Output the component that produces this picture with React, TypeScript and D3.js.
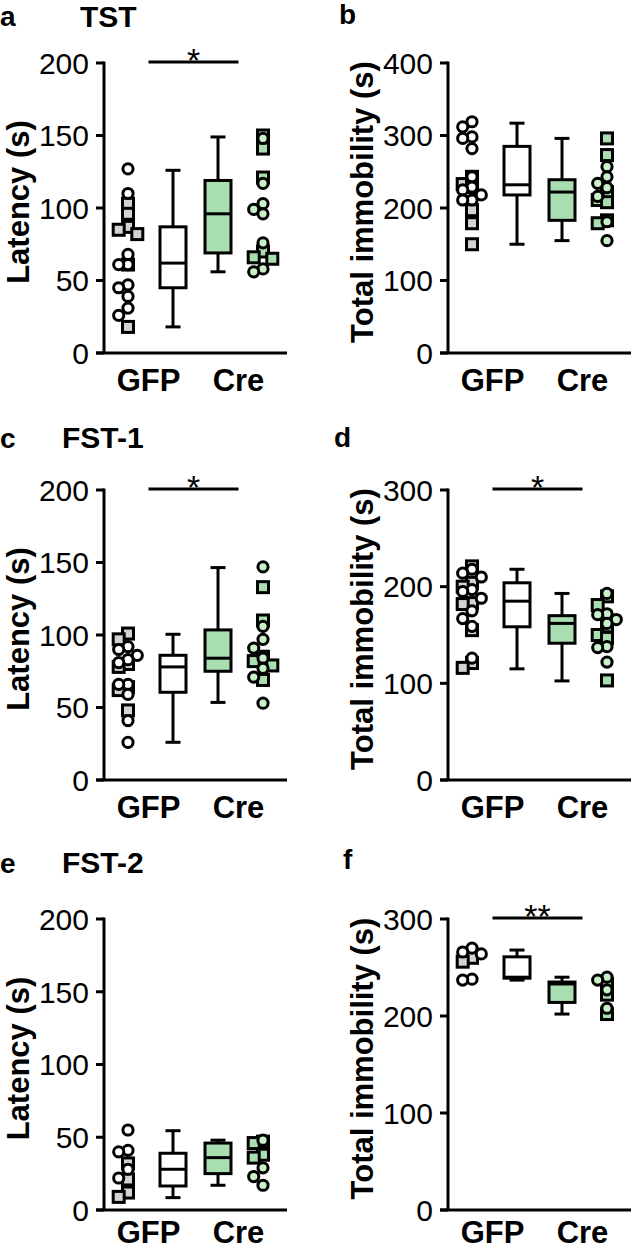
import * as d3 from "d3";

// column keys and group labels
const columns = ["gfpDots", "gfpBox", "creBox", "creDots"];
const groups = ["GFP", "Cre"];

// a – TST latency
const aTicks = [0, 50, 100, 150, 200];
const aGfpCircles = [127, 110, 68, 61, 61, 47, 45, 39, 31, 26];
const aGfpSquares = [103, 96, 87, 85, 82, 61, 18];
const aCreCircles = [148, 117, 103, 99, 96, 76, 58, 56];
const aCreSquares = [150, 141, 121, 70, 66, 65];
const aGfpBox = [18, 45, 62, 87, 126]; // min, q1, median, q3, max
const aCreBox = [56, 69, 96, 119, 149];

// b – TST total immobility
const bTicks = [0, 100, 200, 300, 400];
const bGfpCircles = [319, 312, 298, 296, 282, 243, 229, 225, 218, 211, 211];
const bGfpSquares = [243, 233, 229, 197, 179, 150];
const bCreCircles = [257, 243, 234, 228, 216, 181, 155];
const bCreSquares = [296, 273, 222, 211, 208, 183, 179];
const bGfpBox = [150, 218, 232, 285, 317];
const bCreBox = [155, 183, 222, 239, 296];

// c – FST-1 latency
const cTicks = [0, 50, 100, 150, 200];
const cGfpCircles = [92, 90, 86, 83, 81, 66, 66, 59, 41, 26];
const cGfpSquares = [101, 97, 80, 78, 64, 62, 48];
const cCreCircles = [147, 106, 97, 91, 84, 77, 71, 53];
const cCreSquares = [133, 110, 85, 82, 79, 69];
const cGfpBox = [26, 60.5, 78, 86, 100.5];
const cCreBox = [53.5, 75, 84, 103.5, 146.5];

// d – FST-1 total immobility
const dTicks = [0, 100, 200, 300];
const dGfpCircles = [218, 214, 210, 197, 195, 188, 175, 167, 159, 126];
const dGfpSquares = [221, 204, 200, 183, 182, 155, 121, 116];
const dCreCircles = [193, 172, 171, 166, 162, 138, 137, 122];
const dCreSquares = [190, 181, 159, 150, 147, 103];
const dGfpBox = [115, 158.5, 185, 204, 218];
const dCreBox = [102.5, 141.5, 162, 170, 193];

// e – FST-2 latency
const eTicks = [0, 50, 100, 150, 200];
const eGfpCircles = [55, 41, 40, 28, 22];
const eGfpSquares = [32, 21, 12, 9];
const eCreCircles = [48, 29, 23, 17];
const eCreSquares = [47, 46, 38, 36];
const eGfpBox = [8.5, 16.5, 28, 39, 54.5];
const eCreBox = [17, 25, 36, 46, 48];

// f – FST-2 total immobility
const fTicks = [0, 100, 200, 300];
const fGfpCircles = [270, 266, 264, 238, 237];
const fGfpSquares = [260, 256];
const fCreCircles = [240, 237, 227, 208];
const fCreSquares = [233, 222, 202];
const fGfpBox = [237, 239, 240, 261, 268];
const fCreBox = [202, 214, 233, 235, 240];

const panels = [
  { letter: "a", title: "TST", yLabel: "Latency (s)", ticks: aTicks, gfpC: aGfpCircles, gfpS: aGfpSquares, creC: aCreCircles, creS: aCreSquares, gfpBox: aGfpBox, creBox: aCreBox, sig: "*" },
  { letter: "b", title: "", yLabel: "Total immobility (s)", ticks: bTicks, gfpC: bGfpCircles, gfpS: bGfpSquares, creC: bCreCircles, creS: bCreSquares, gfpBox: bGfpBox, creBox: bCreBox, sig: "" },
  { letter: "c", title: "FST-1", yLabel: "Latency (s)", ticks: cTicks, gfpC: cGfpCircles, gfpS: cGfpSquares, creC: cCreCircles, creS: cCreSquares, gfpBox: cGfpBox, creBox: cCreBox, sig: "*" },
  { letter: "d", title: "", yLabel: "Total immobility (s)", ticks: dTicks, gfpC: dGfpCircles, gfpS: dGfpSquares, creC: dCreCircles, creS: dCreSquares, gfpBox: dGfpBox, creBox: dCreBox, sig: "*" },
  { letter: "e", title: "FST-2", yLabel: "Latency (s)", ticks: eTicks, gfpC: eGfpCircles, gfpS: eGfpSquares, creC: eCreCircles, creS: eCreSquares, gfpBox: eGfpBox, creBox: eCreBox, sig: "" },
  { letter: "f", title: "", yLabel: "Total immobility (s)", ticks: fTicks, gfpC: fGfpCircles, gfpS: fGfpSquares, creC: fCreCircles, creS: fCreSquares, gfpBox: fGfpBox, creBox: fCreBox, sig: "**" },
];

// placement of each panel on the page
const layout = [
  { axisX: 104, top: 63, zero: 353, letterX: 0, letterY: 26, titleX: 80, titleY: 27 },
  { axisX: 448, top: 63, zero: 353, letterX: 339, letterY: 24, titleX: 0, titleY: 0 },
  { axisX: 104, top: 490, zero: 780, letterX: 0, letterY: 448, titleX: 62, titleY: 448 },
  { axisX: 448, top: 490, zero: 780, letterX: 334, letterY: 447, titleX: 0, titleY: 0 },
  { axisX: 104, top: 919, zero: 1210, letterX: 0, letterY: 873, titleX: 62, titleY: 873 },
  { axisX: 448, top: 919, zero: 1210, letterX: 343, letterY: 869, titleX: 0, titleY: 0 },
];

const FONT = "'Liberation Sans', Arial, Helvetica, sans-serif";
const GREEN = "#a9deb0";
const GREEN_LIGHT = "#c9f1c9";
const GREY = "#d3d3d3";
const SW = 3;
const H = 1250;

// simple beeswarm: offsets in steps so markers of one set don't pile up
function swarm(values: number[], y: (v: number) => number, step = 9.3, gap = 9.3) {
  const order = values.map((v, i) => ({ v, i })).sort((a, b) => b.v - a.v);
  const placed: { x: number; y: number }[] = [];
  const out: { v: number; dx: number }[] = new Array(values.length);
  for (const { v, i } of order) {
    const py = y(v);
    let best = 0;
    let bestScore = -Infinity;
    for (const c of [0, -step, step]) {
      const d = d3.min(placed, (p) => Math.hypot(p.x - c, p.y - py)) ?? Infinity;
      if (d >= gap) {
        best = c;
        break;
      }
      if (d > bestScore) {
        bestScore = d;
        best = c;
      }
    }
    placed.push({ x: best, y: py });
    out[i] = { v, dx: best };
  }
  return out;
}

function Box({ stats, cx, y, fill }: { stats: number[]; cx: number; y: d3.ScaleLinear<number, number>; fill: string }) {
  const [mn, q1, med, q3, mx] = stats;
  const w = 26;
  const cap = 15;
  return (
    <g stroke="#000" strokeWidth={SW} fill="none">
      <line x1={cx} x2={cx} y1={y(mx)} y2={y(q3)} />
      <line x1={cx} x2={cx} y1={y(q1)} y2={y(mn)} />
      <line x1={cx - cap / 2} x2={cx + cap / 2} y1={y(mx)} y2={y(mx)} />
      <line x1={cx - cap / 2} x2={cx + cap / 2} y1={y(mn)} y2={y(mn)} />
      <rect x={cx - w / 2} y={y(q3)} width={w} height={y(q1) - y(q3)} fill={fill} />
      <line x1={cx - w / 2} x2={cx + w / 2} y1={y(med)} y2={y(med)} />
    </g>
  );
}

function Dots({ circles, squares, cx, y, circleFill, squareFill }: any) {
  const sq = swarm(squares, y);
  const ci = swarm(circles, y);
  const s = 11;
  return (
    <g stroke="#000" strokeWidth={SW}>
      {sq.map((d, i) => (
        <rect key={"s" + i} x={cx + d.dx - s / 2} y={y(d.v) - s / 2} width={s} height={s} fill={squareFill} />
      ))}
      {ci.map((d, i) => (
        <circle key={"c" + i} cx={cx + d.dx} cy={y(d.v)} r={5.1} fill={circleFill} />
      ))}
    </g>
  );
}

function Panel({ p, l }: { p: (typeof panels)[number]; l: (typeof layout)[number] }) {
  const max = d3.max(p.ticks)!;
  const y = d3.scaleLinear().domain([0, max]).range([l.zero, l.top]);
  const x = d3.scalePoint().domain(columns).range([l.axisX + 24, l.axisX + 159]);
  const gx = (x("gfpDots")! + x("gfpBox")!) / 2 - 2;
  const cxr = (x("creBox")! + x("creDots")!) / 2 - 2;
  const mid = (l.top + l.zero) / 2 - 6;
  const catY = Math.min(l.zero + 38, H - 7);
  return (
    <g fontFamily={FONT}>
      <text x={l.letterX} y={l.letterY} fontSize={28} fontWeight="bold">{p.letter}</text>
      {p.title && (
        <text x={l.titleX} y={l.titleY} fontSize={30} fontWeight="bold">{p.title}</text>
      )}
      {/* axes */}
      <g stroke="#000" strokeWidth={SW}>
        <line x1={l.axisX} x2={l.axisX} y1={l.top - SW / 2} y2={l.zero} />
        <line x1={l.axisX - 8} x2={l.axisX + 183} y1={l.zero} y2={l.zero} />
        {p.ticks.map((t) => (
          <line key={t} x1={l.axisX - 8} x2={l.axisX} y1={y(t)} y2={y(t)} />
        ))}
      </g>
      {p.ticks.map((t) => (
        <text key={t} x={l.axisX - 15} y={y(t)} dy="0.36em" textAnchor="end" fontSize={30}>{t}</text>
      ))}
      <text
        transform={`translate(${l.axisX - 75},${mid}) rotate(-90)`}
        textAnchor="middle"
        fontSize={31}
        fontWeight="bold"
      >
        {p.yLabel}
      </text>
      <text x={gx} y={catY} textAnchor="middle" fontSize={31} fontWeight="bold">{groups[0]}</text>
      <text x={cxr} y={catY} textAnchor="middle" fontSize={31} fontWeight="bold">{groups[1]}</text>
      {p.sig && (
        <g>
          <line x1={gx} x2={cxr} y1={l.top - 1} y2={l.top - 1} stroke="#000" strokeWidth={SW} />
          <text x={(gx + cxr) / 2} y={l.top + 9} textAnchor="middle" fontSize={34}>{p.sig}</text>
        </g>
      )}
      <Dots circles={p.gfpC} squares={p.gfpS} cx={x("gfpDots")!} y={y} circleFill="#fff" squareFill={GREY} />
      <Box stats={p.gfpBox} cx={x("gfpBox")!} y={y} fill="#fff" />
      <Box stats={p.creBox} cx={x("creBox")!} y={y} fill={GREEN} />
      <Dots circles={p.creC} squares={p.creS} cx={x("creDots")!} y={y} circleFill={GREEN_LIGHT} squareFill={GREEN} />
    </g>
  );
}

export default function App() {
  return (
    <>
      <style>{`body{margin:0}`}</style>
      <svg width={632} height={H} style={{ display: "block" }}>
        <rect width={632} height={H} fill="#fff" />
        {panels.map((p, i) => (
          <Panel key={p.letter} p={p} l={layout[i]} />
        ))}
      </svg>
    </>
  );
}
